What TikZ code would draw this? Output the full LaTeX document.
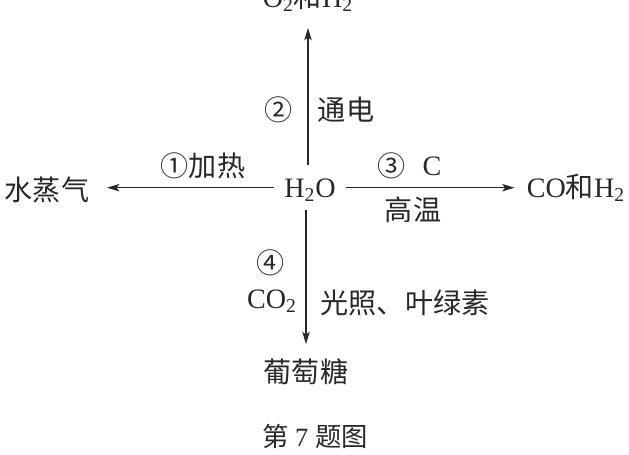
\documentclass[tikz,border=0pt]{standalone}
\usepackage{fontspec}
\setmainfont{Liberation Serif}
\newfontfamily\cjk{Noto Sans CJK SC}
\usetikzlibrary{arrows.meta,positioning}
\definecolor{ink}{RGB}{40,40,40}
\tikzset{
  >={Stealth[length=7pt,width=4.2pt,inset=1.6pt]},
  chem/.style={inner sep=0.1cm,text=ink,font=\fontsize{16}{19}\selectfont},
  cond/.style={chem},
  caption/.style={inner sep=0.1cm,text=ink,font=\fontsize{15}{18}\selectfont},
  flow/.style={->,draw=ink,line width=0.8pt},
}

\begin{document}
\begin{tikzpicture}[x=0.02cm,y=-0.02cm]
    \useasboundingbox (0,0) rectangle (629,454);
    % substances
    \node[chem,anchor=base,inner xsep=0.2cm,inner ysep=0.26cm,text depth=0pt] (h2o) at (310,197) {H\textsubscript{2}O};
    \node[chem,anchor=base] (o2h2) at (308,7) {O\textsubscript{2}{\cjk 和}H\textsubscript{2}};
    \node[chem] (steam) at (47,190) {\cjk 水蒸气};
    \node[chem,anchor=base] (coh2) at (576,197) {CO{\cjk 和}H\textsubscript{2}};
    \node[chem] (glucose) at (306,372) {\cjk 葡萄糖};
    % conditions
    \node[cond] (heat) at (203,166) {\cjk ①加热};
    \node[cond] (n2) at (279,110) {\cjk ②};
    \node[cond] (elec) at (346,110) {\cjk 通电};
    \node[cond] (n3) at (392,166) {\cjk ③};
    \node[cond,anchor=base] (carbon) at (432,175) {C};
    \node[cond] (hot) at (413,210) {\cjk 高温};
    \node[cond] (n4) at (271,263) {\cjk ④};
    \node[cond,anchor=base] (co2) at (272,308) {CO\textsubscript{2}};
    \node[cond] (light) at (405,303) {\cjk 光照、叶绿素};
    \node[caption] (cap) at (315,436) {{\cjk 第} 7 {\cjk 题图}};
    % reactions
    \draw[flow,shorten >=0.22cm] (h2o.north -| o2h2.south) -- (o2h2.south);
    \draw[flow,shorten >=0.25cm] (h2o.west) -- (steam.east |- h2o.west);
    \draw[flow,shorten >=0.14cm] (h2o.east) -- (coh2.west |- h2o.east);
    \draw[flow,shorten >=0.19cm] (h2o.south -| glucose.north) -- (glucose.north);
\end{tikzpicture}
\end{document}
